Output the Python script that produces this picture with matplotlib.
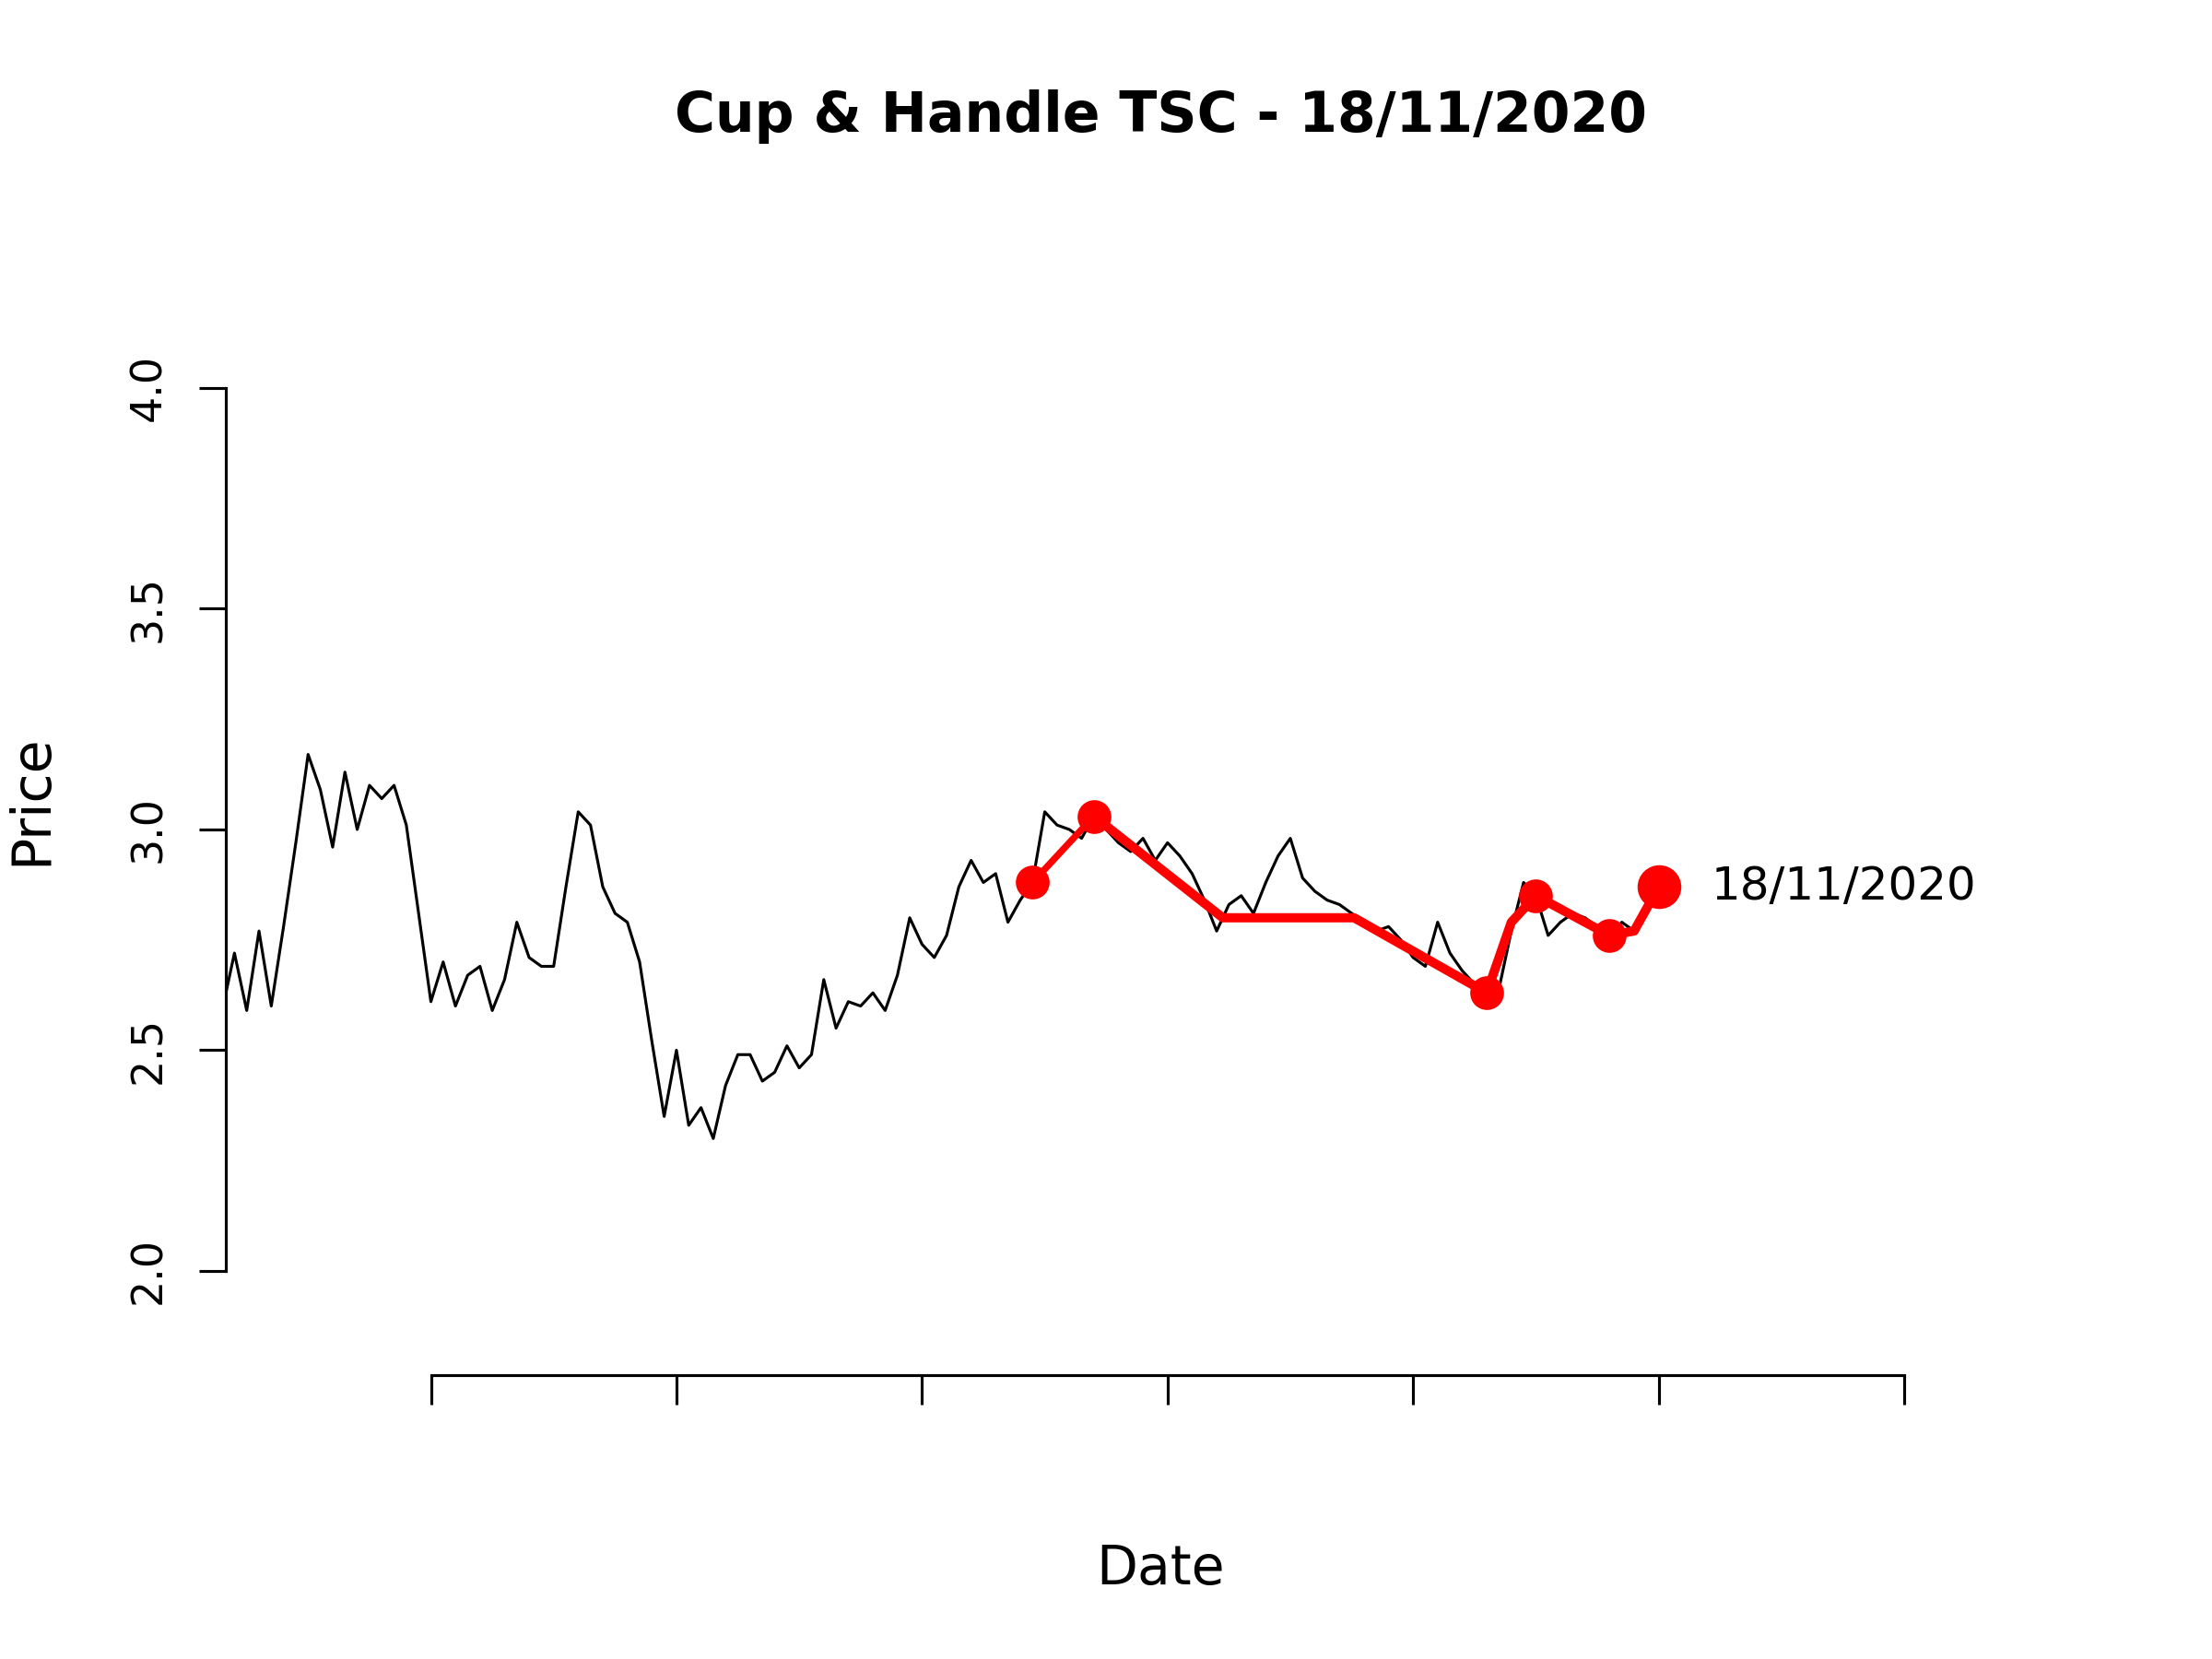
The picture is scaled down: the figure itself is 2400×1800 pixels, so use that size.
import numpy as np
import matplotlib
matplotlib.use("Agg")
import matplotlib.pyplot as plt

# closing prices, one per trading day (first one sits just left of the axis)
close = [2.59,
         2.72, 2.59, 2.77, 2.60, 2.78, 2.97, 3.17, 3.09, 2.96, 3.13,
         3.00, 3.10, 3.07, 3.10, 3.01, 2.81, 2.61, 2.70, 2.60, 2.67,
         2.69, 2.59, 2.66, 2.79, 2.71, 2.69, 2.69, 2.87, 3.04, 3.01,
         2.87, 2.81, 2.79, 2.70, 2.52, 2.35, 2.50, 2.33, 2.37, 2.30,
         2.42, 2.49, 2.49, 2.43, 2.45, 2.51, 2.46, 2.49, 2.66, 2.55,
         2.61, 2.60, 2.63, 2.59, 2.67, 2.80, 2.74, 2.71, 2.76, 2.87,
         2.93, 2.88, 2.90, 2.79, 2.84, 2.88, 3.04, 3.01, 3.00, 2.98,
         3.03, 3.00, 2.97, 2.95, 2.98, 2.93, 2.97, 2.94, 2.90, 2.84,
         2.77, 2.83, 2.85, 2.81, 2.88, 2.94, 2.98, 2.89, 2.86, 2.84,
         2.83, 2.81, 2.79, 2.77, 2.78, 2.75, 2.71, 2.69, 2.79, 2.72,
         2.68, 2.65, 2.63, 2.64, 2.77, 2.88, 2.85, 2.76, 2.79, 2.81,
         2.80, 2.78, 2.76, 2.79, 2.77, 2.82, 2.87]
day = np.arange(-1, len(close) - 1)

# cup & handle pattern
pat_x = [65, 70, 80.5, 91.2, 102, 104, 106, 112, 114, 116]
pat_y = [2.88, 3.03, 2.80, 2.80, 2.63, 2.79, 2.85, 2.76, 2.77, 2.87]
key_x = [65, 70, 102, 106, 112]
key_y = [2.88, 3.03, 2.63, 2.85, 2.76]
last_x, last_y = 116, 2.87
last_label = "18/11/2020"

title = "Cup & Handle TSC - 18/11/2020"
yticks = [2.0, 2.5, 3.0, 3.5, 4.0]
xticks = [16, 36, 56, 76, 96, 116, 136]

fig = plt.figure(figsize=(8, 6), dpi=300)
ax = fig.add_axes([0.1021, 0.1711, 0.798, 0.6178])

ax.plot(day, close, color="black", lw=0.75)
ax.plot(pat_x[:2], pat_y[:2], color="red", lw=1.75, solid_capstyle="round")
ax.plot(pat_x[1:], pat_y[1:], color="red", lw=2.4, solid_capstyle="round",
        solid_joinstyle="round")
ax.plot(key_x, key_y, "o", color="red", ms=8.8, mew=0)
ax.plot([last_x], [last_y], "o", color="red", ms=11.4, mew=0, clip_on=False)
ax.annotate(last_label, xy=(last_x, last_y), xytext=(13.7, 0),
            textcoords="offset points", ha="left", va="center", fontsize=12)

ax.set_xlim(-0.70, 143.07)
ax.set_ylim(1.764, 4.0856)

for s in ["top", "right"]:
    ax.spines[s].set_visible(False)
ax.spines["left"].set_bounds(2.0, 4.0)
ax.spines["bottom"].set_bounds(16, 136)
ax.spines["left"].set_linewidth(0.75)
ax.spines["bottom"].set_linewidth(0.75)

ax.set_yticks(yticks)
ax.set_yticklabels(["%.1f" % v for v in yticks], rotation=90, va="center")
ax.set_xticks(xticks)
ax.set_xticklabels([])
ax.tick_params(axis="y", length=7, width=0.75, pad=7.6, labelsize=11)
ax.tick_params(axis="x", length=7.7, width=0.75)

fig.text(1260 / 2400, 1 - 126 / 1800, title, ha="center", va="center",
         fontsize=14.4, fontweight="bold")
fig.text(1259 / 2400, 1 - 1702 / 1800, "Date", ha="center", va="center",
         fontsize=14)
fig.text(34 / 2400, 1 - 868 / 1800, "Price", ha="center", va="center",
         fontsize=14, rotation=90)

fig.savefig("out.png", dpi=300)
